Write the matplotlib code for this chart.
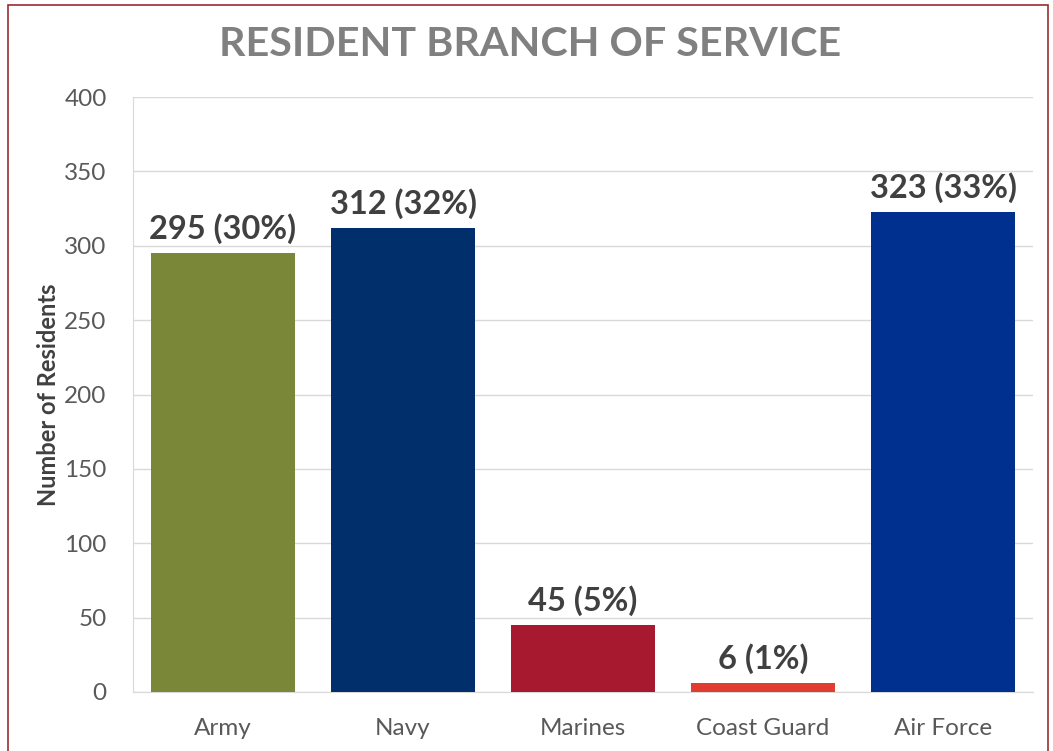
import matplotlib
matplotlib.use("Agg")
import matplotlib.pyplot as plt
from matplotlib.patches import Rectangle

categories = ["Army", "Navy", "Marines", "Coast Guard", "Air Force"]
counts = [295, 312, 45, 6, 323]
percents = [30, 32, 5, 1, 33]
colors = ["#7A8739", "#002F6C", "#A6192E", "#E03C31", "#00308F"]
yticks = [0, 50, 100, 150, 200, 250, 300, 350, 400]

plt.rcParams['font.family'] = ['Lato', 'DejaVu Sans']

fig = plt.figure(figsize=(10.53, 7.51), dpi=100)
ax = fig.add_axes([133/1053, 1-692/751, 900/1053, 595/751])

x = list(range(len(categories)))
ax.bar(x, counts, width=0.8, color=colors, zorder=3)
for xi, c, p in zip(x, counts, percents):
    ax.text(xi, c + 6, f"{c} ({p}%)", ha="center", va="bottom",
            fontsize=23.5, fontweight="bold", color="#404040", zorder=4)

ax.set_xlim(-0.5, len(categories) - 0.5)
ax.set_ylim(0, 400)
ax.set_yticks(yticks)
ax.set_xticks(x)
ax.set_xticklabels(categories)
ax.tick_params(axis="both", length=0, labelsize=17.5, labelcolor="#595959")
ax.tick_params(axis="x", pad=19)
ax.tick_params(axis="y", pad=19)
ax.grid(axis="y", color="#D9D9D9", linewidth=1, zorder=0)
for s in ["top", "right"]:
    ax.spines[s].set_visible(False)
ax.spines["left"].set_color("#D9D9D9")
ax.spines["bottom"].set_color("#D9D9D9")
ax.set_ylabel("Number of Residents", fontsize=17, fontweight="bold",
              color="#404040", labelpad=3)

fig.text(530/1053, 1-44/751, "RESIDENT BRANCH OF SERVICE", ha="center",
         va="center", fontsize=29.7, fontweight="bold", color="#808080")

fig.patches.append(Rectangle((8/1053, -0.02), 1040/1053, 1-5/751+0.02,
                             transform=fig.transFigure, fill=False,
                             edgecolor="#9B2D30", linewidth=1.2))

fig.savefig("out.png", dpi=100)
